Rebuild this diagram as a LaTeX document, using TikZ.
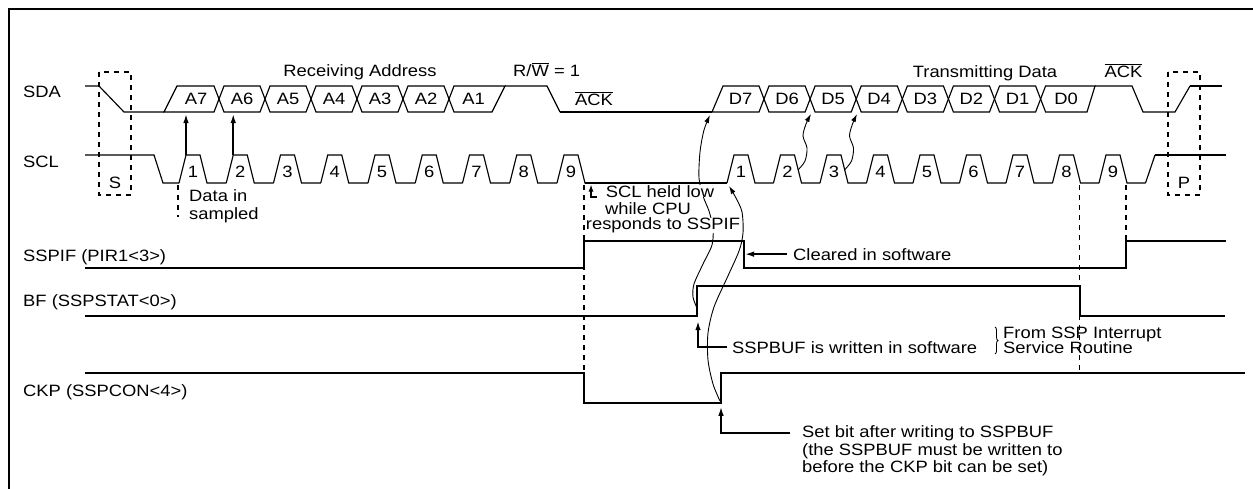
\documentclass[tikz,border=0pt]{standalone}
\usepackage{fontspec}
\setmainfont{Liberation Sans}[FakeStretch=1.12]
\usetikzlibrary{arrows.meta,decorations.pathreplacing}
\newcommand{\olbar}[1]{$\overline{\hbox{#1}}$}
\begin{document}
\begin{tikzpicture}[x=1pt,y=-1pt,
 t/.style={font=\fontsize{16.4}{19}\selectfont,inner sep=0pt,anchor=base},
 tw/.style={t,anchor=base west},
 sig/.style={line width=1.15pt,line join=miter},
 thk/.style={line width=2pt},
 dsh/.style={line width=1.8pt,dash pattern=on 5pt off 5pt},
 arr/.style={line width=1.6pt,-{Latex[length=9pt,width=5.5pt]}},
 crv/.style={line width=0.9pt,-{Latex[length=8pt,width=5pt]}},
 sm/.style={line width=1.3pt,-{Latex[length=7pt,width=5pt]}}]
\useasboundingbox (0,0) rectangle (1253,488);
% frame
\draw[line width=2pt] (9,490) -- (9,8.5) -- (1254,8.5);
% signal labels
\node[tw] (lsda) at (23,97) {SDA};
\node[tw] (lscl) at (23,167) {SCL};
\node[tw] (lsspif) at (23,261) {SSPIF (PIR1<3>)};
\node[tw] (lbf) at (23,306) {BF (SSPSTAT<0>)};
\node[tw] (lckp) at (23,396) {CKP (SSPCON<4>)};
% ---------------- SDA
\draw[sig] (85,86) -- (99,86) -- (124,112) -- (164,112);
\draw[sig] (164,112) -- (177,86) -- (214,86) -- (219,99) -- (214,112) -- cycle;
\node[t] (a7) at (196,104.5) {A7};
\foreach \i in {1,...,5} {
  \pgfmathsetmacro\ca{219+46*(\i-1)}
  \pgfmathsetmacro\cb{219+46*\i}
  \pgfmathtruncatemacro\j{7-\i}
  \draw[sig] (\ca,99) -- (\ca+5,86) -- (\cb-5,86) -- (\cb,99) -- (\cb-5,112) -- (\ca+5,112) -- cycle;
  \node[t] (a\j) at (\ca+23,104.5) {A\j};
}
\draw[sig] (449,99) -- (454,86) -- (505,86) -- (492,112) -- (454,112) -- cycle;
\node[t] (a1) at (473.5,104.5) {A1};
\draw[sig] (505,86) -- (547,86) -- (560,112);
\draw[thk] (560,112) -- (712,112);
\draw[sig] (712,112) -- (723,86) -- (759,86) -- (764,99) -- (759,112) -- cycle;
\node[t] (d7) at (740.5,104.5) {D7};
\foreach \i in {1,...,6} {
  \pgfmathsetmacro\ca{764+46.1*(\i-1)}
  \pgfmathsetmacro\cb{764+46.1*\i}
  \pgfmathtruncatemacro\j{7-\i}
  \draw[sig] (\ca,99) -- (\ca+5,86) -- (\cb-5,86) -- (\cb,99) -- (\cb-5,112) -- (\ca+5,112) -- cycle;
  \node[t] (d\j) at (\ca+23,104.5) {D\j};
}
\draw[sig] (1040.6,99) -- (1045.6,86) -- (1095,86) -- (1087,112) -- (1045.6,112) -- cycle;
\node[t] (d0) at (1066,104.5) {D0};
\draw[sig] (1095,86) -- (1132,86) -- (1143,112) -- (1175,112) -- (1190,86);
\draw[thk] (1190,86) -- (1222,86);
% top texts
\node[t] (recv) at (360,76) {Receiving Address};
\node[tw] (rw) at (513,76) {R/\olbar{W} = 1};
\node[t] (ack1) at (594,105) {\olbar{ACK}};
\node[t] (trans) at (985,77) {Transmitting Data};
\node[t] (ack2) at (1123.5,77) {\olbar{ACK}};
% ---------------- SCL
\draw[sig] (85,155) -- (154,155) -- (163,183) -- (179,183);
\foreach \k in {1,...,9} {
  \pgfmathsetmacro\r{179+47.25*(\k-1)}
  \draw[sig] (\r,183) -- ++(7,-28) -- ++(14,0) -- ++(7,28) -- ++(19.25,0);
  \node[t] (p\k) at (\r+14,177) {\k};
}
\draw[sig] (585,183) -- (727,183);
\foreach \k in {1,...,9} {
  \pgfmathsetmacro\r{727+46.5*(\k-1)}
  \draw[sig] (\r,183) -- ++(7,-28) -- ++(14,0) -- ++(7,28) -- ++(18.5,0);
  \node[t] (q\k) at (\r+14,177) {\k};
}
\draw[sig] (1145.5,183) -- (1155,155);
\draw[thk] (1155,155) -- (1226,155);
% start / stop boxes
\draw[dsh] (99,72) rectangle (131,195);
\node[t] (s) at (115,188) {S};
\draw[dsh] (1168,72) rectangle (1200,195);
\node[t] (p) at (1184,188) {P};
% dashed markers
\draw[dsh] (178,185) -- (178,217);
\draw[dsh] (584,185) -- (584,403);
\draw[dsh] (1079.5,185) -- (1079.5,372);
\draw[dsh] (1126,185) -- (1126,241);
% ---------------- SSPIF, BF, CKP
\draw[thk] (85,268) -- (584,268) -- (584,241) -- (744,241) -- (744,268) -- (1126,268) -- (1126,241) -- (1226,241);
\draw[thk] (85,316) -- (697,316) -- (697,286) -- (1079.5,286) -- (1079.5,316) -- (1225,316);
\draw[thk] (85,373) -- (584,373) -- (584,403) -- (721,403) -- (721,373) -- (1245,373);
% sampling arrows
\draw[arr] (186,155) -- (186,114);
\draw[arr] (233.25,155) -- (233.25,114);
\node[tw] (din1) at (189,201) {Data in};
\node[tw] (din2) at (189,219) {sampled};
% curved connectors
\draw[crv] plot[smooth] coordinates {(697,308) (693,297) (694,284) (703,264) (712,245) (713,228) (709,211) (703,196) (699,178) (700,152) (704,130) (710,115)};
\draw[crv] plot[smooth] coordinates {(720,401) (713,384) (708,360) (708,333) (714,307) (727,278) (739,251) (743,233) (742,212) (736,198) (729,186)};
\draw[crv] plot[smooth] coordinates {(798,170) (805,161) (807,148) (803,136) (806,124) (811,114)};
\draw[crv] plot[smooth] coordinates {(844.5,170) (851.5,161) (853.5,148) (849.5,136) (852.5,124) (857,114)};
% SCL held low note
\draw[sm] (597,197) -- (591,197) -- (591,184.5);
\node[t,fill=white] (hl1) at (660,197) {SCL held low};
\node[t,fill=white] (hl2) at (648,214) {while CPU};
\node[t,fill=white] (hl3) at (663,229.5) {responds to SSPIF};
% annotations
\node[tw] (clr) at (793,260) {Cleared in software};
\draw[arr] ([xshift=-6pt]clr.west) -- +(-42,0);
\node[tw] (buf) at (732,353) {SSPBUF is written in software};
\draw[arr] ([xshift=-5pt]buf.west) -- ++(-29,0) -- ++(0,-26);
\draw[line width=0.8pt,decorate,decoration={brace,amplitude=3pt}] (995,327) -- (995,354);
\node[tw] (from1) at (1003,338) {From SSP Interrupt};
\node[tw] (from2) at (1003,353) {Service Routine};
\node[tw] (set1) at (802,437) {Set bit after writing to SSPBUF};
\node[tw] (set2) at (802,455) {(the SSPBUF must be written to};
\node[tw] (set3) at (802,472) {before the CKP bit can be set)};
\draw[arr] ([xshift=-12pt]set1.west) -- ++(-69,0) -- ++(0,-26);
\end{tikzpicture}
\end{document}
